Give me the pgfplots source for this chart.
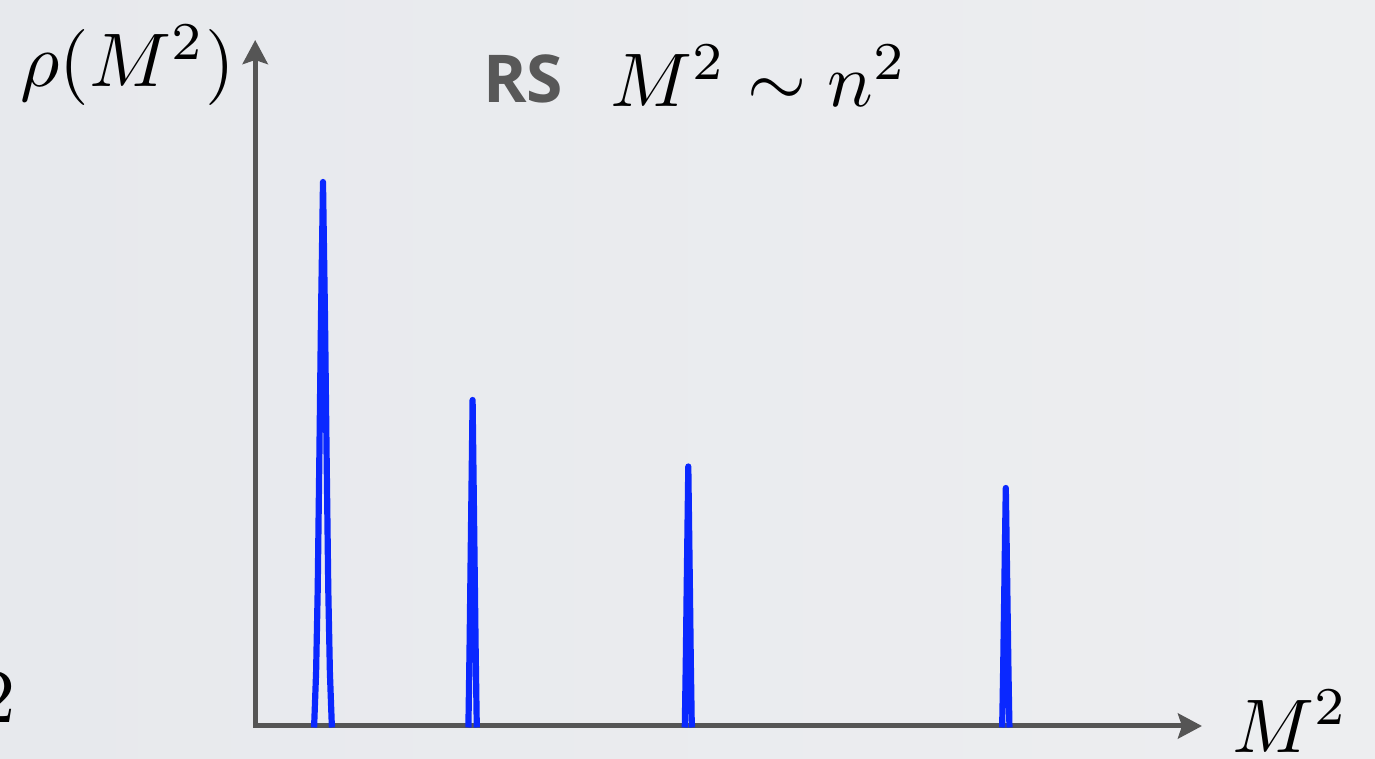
\documentclass[border=0pt]{standalone}
\usepackage{fontspec}
\usepackage{pgfplots}
\pgfplotsset{compat=1.18}
\usetikzlibrary{arrows.meta,backgrounds}
\newfontfamily\rsfont{Open Sans}
\definecolor{axgrey}{RGB}{85,85,85}
\definecolor{rsgrey}{RGB}{88,88,88}
\definecolor{peakblue}{RGB}{10,40,255}
\definecolor{bgl}{RGB}{231,233,237}
\definecolor{bgr}{RGB}{237,238,240}
\begin{document}
\begin{tikzpicture}
\begin{axis}[
  x=0.5pt, y=0.5pt,
  xmin=255.2, xmax=1202, ymin=33, ymax=719,
  enlargelimits=false,
  scale only axis,
  axis lines=left,
  axis line style={draw=axgrey, line width=2.5pt, line cap=rect,
     -{Stealth[length=12pt,width=12.5pt,inset=2pt]}},
  ticks=none,
  clip=false,
]
\coordinate (BL) at (axis cs:0,0);
\coordinate (TR) at (axis cs:1375,759);
\addplot[peakblue, line width=3.1pt, line join=round, no markers] coordinates {
(314.1,31.5) (316.1,86.6) (317.7,168.5) (319.4,305) (321,441.5) (323,577)
(325,441.5) (326.6,305) (328.3,168.5) (329.9,86.6) (331.9,31.5)};
\addplot[peakblue, line width=3.1pt, line join=round, no markers] coordinates {
(468.4,31.5) (468.9,64.8) (469.6,114) (470.6,196) (471.6,278) (472.6,359)
(473.6,278) (474.6,196) (475.6,114) (476.3,64.8) (476.8,31.5)};
\addplot[peakblue, line width=3.1pt, line join=round, no markers] coordinates {
(684.8,31.5) (685.2,58.2) (685.8,97.4) (686.6,162.8) (687.45,228.1) (688.3,292.5)
(689.15,228.1) (690,162.8) (690.8,97.4) (691.4,58.2) (691.8,31.5)};
\addplot[peakblue, line width=3.1pt, line join=round, no markers] coordinates {
(1002.15,31.5) (1002.6,56) (1003.2,92) (1004.05,152) (1004.9,212) (1005.8,271)
(1006.7,212) (1007.55,152) (1008.4,92) (1009,56) (1009.45,31.5)};
\node[anchor=base west, inner sep=0pt, scale=3.8] at (axis cs:19,672)
  {$\rho(M^2)$};
\node[anchor=base west, inner sep=0pt, text=rsgrey] at (axis cs:483,656)
  {\rsfont\bfseries\fontsize{33}{40}\selectfont RS};
\node[anchor=base west, inner sep=0pt, scale=3.8] at (axis cs:609,652)
  {$M^2\sim n^2$};
\node[anchor=base west, inner sep=0pt, scale=3.8] at (axis cs:1231,7)
  {$M^2$};
\node[anchor=base east, inner sep=0pt, scale=3.8] at (axis cs:17,37)
  {$2$};
\end{axis}
\begin{scope}[on background layer]
\shade[left color=bgl, right color=bgr] (BL) rectangle (TR);
\end{scope}
\pgfresetboundingbox
\useasboundingbox (BL) rectangle (TR);
\end{tikzpicture}
\end{document}
